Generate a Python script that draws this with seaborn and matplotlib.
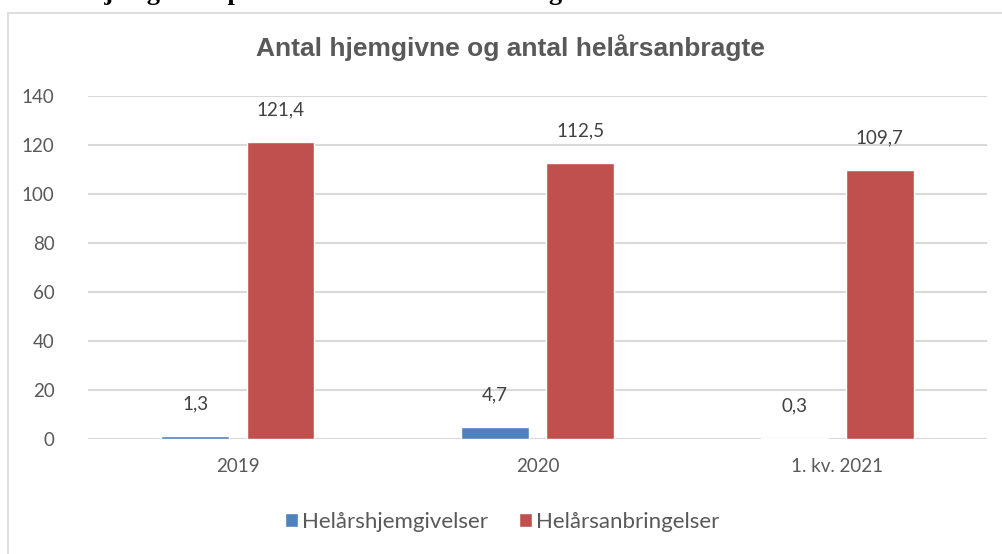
import pandas as pd
import matplotlib.pyplot as plt
import seaborn as sns
from matplotlib.patches import Rectangle

# data
kategorier = ['2019', '2020', '1. kv. 2021']
hjemgivelser = [1.3, 4.7, 0.3]
anbringelser = [121.4, 112.5, 109.7]
serier = ['Helårshjemgivelser', 'Helårsanbringelser']
farver = {'Helårshjemgivelser': '#4F81BD', 'Helårsanbringelser': '#C0504D'}
titel = 'Antal hjemgivne og antal helårsanbragte'
overskrift = 'Antal hjemgivne i procent af antal helårsanbragte'

df = pd.DataFrame({
    'Periode': kategorier * 2,
    'Serie': [serier[0]] * 3 + [serier[1]] * 3,
    'Antal': hjemgivelser + anbringelser,
})

sns.set_style('white')
plt.rcParams['font.family'] = ['Lato', 'DejaVu Sans']
tekstfarve = '#595959'

fig = plt.figure(figsize=(10.02, 5.54), dpi=100)
ax = fig.add_axes([88 / 1002, 115 / 554, 899 / 1002, 343 / 554])

sns.barplot(data=df, x='Periode', y='Antal', hue='Serie', palette=farver,
            saturation=1, width=0.57, gap=0.21, ax=ax, errorbar=None, legend=True)

ax.set_xlim(-0.5, 2.5)
ax.set_ylim(0, 140)
ax.set_yticks(range(0, 141, 20))
ax.yaxis.grid(True, color='#d9d9d9', linewidth=1.5)
ax.set_axisbelow(True)
for s in ax.spines.values():
    s.set_visible(False)
ax.axhline(0, color='#d9d9d9', linewidth=1.5, zorder=0.5)
ax.tick_params(axis='both', length=0, labelsize=13.5, labelcolor=tekstfarve)
ax.tick_params(axis='x', pad=14)
ax.tick_params(axis='y', pad=24)
ax.set_xlabel('')
ax.set_ylabel('')

# datalabels med komma
for container in ax.containers:
    for bar in container:
        h = bar.get_height()
        ax.annotate(f'{h:.1f}'.replace('.', ','),
                    (bar.get_x() + bar.get_width() / 2, h),
                    xytext=(0, 17), textcoords='offset points',
                    ha='center', va='bottom', fontsize=13.5, color='#404040')

# diagramtitel
fig.text(510 / 1002, 1 - 48 / 554, titel, fontsize=19, fontweight='bold',
         color=tekstfarve, family=['Liberation Sans Narrow', 'Liberation Sans'],
         ha='center', va='center')

leg = ax.legend(loc='center', bbox_to_anchor=(502 / 1002, 1 - 522 / 554),
                bbox_transform=fig.transFigure, ncol=2, frameon=False,
                fontsize=16, handlelength=0.6, handleheight=0.6,
                handletextpad=0.15, columnspacing=1.4)
for t in leg.get_texts():
    t.set_color(tekstfarve)

# ramme om diagrammet
fig.patches.append(Rectangle((8 / 1002, -0.1), 1.2, 1 - 13 / 554 + 0.1,
                             transform=fig.transFigure, fill=False,
                             edgecolor='#d9d9d9', linewidth=1.2))
# afskaaret overskrift fra dokumentet
fig.text(20 / 1002, 1 + 7 / 554, overskrift, fontsize=19, fontweight='bold',
         family=['Liberation Serif'], va='center', ha='left', color='black')

fig.savefig('out.png', dpi=100)
